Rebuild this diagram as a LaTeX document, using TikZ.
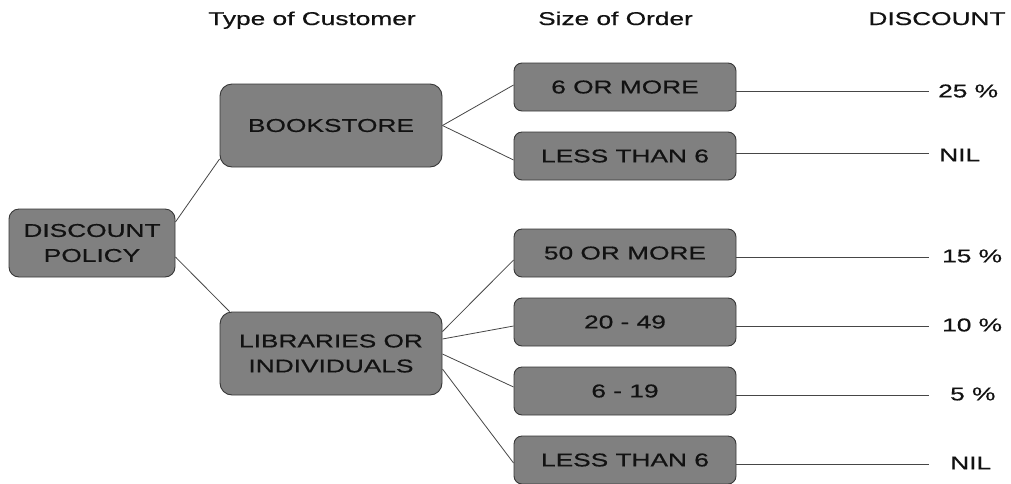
\documentclass[tikz,border=0pt]{standalone}
\usepackage{fontspec}
\setmainfont[FakeStretch=1.42,FakeBold=0.6]{Liberation Sans}
\usetikzlibrary{calc}
\definecolor{boxfill}{RGB}{128,128,128}
\definecolor{boxdraw}{RGB}{55,55,55}
\definecolor{linecol}{RGB}{70,70,70}
\definecolor{txt}{RGB}{18,18,18}
\begin{document}
\begin{tikzpicture}[x=1pt,y=-1pt,
  every node/.style={font=\fontsize{18.5}{25}\selectfont, text=txt, inner sep=0pt},
  bigbox/.style={draw=boxdraw, fill=boxfill, rounded corners=12pt, line width=0.9pt,
    minimum width=222pt, minimum height=83pt, align=center},
  rootbox/.style={draw=boxdraw, fill=boxfill, rounded corners=10pt, line width=0.9pt,
    minimum width=166pt, minimum height=68pt, align=center},
  smallbox/.style={draw=boxdraw, fill=boxfill, rounded corners=8pt, line width=0.9pt,
    minimum width=222pt, minimum height=48pt, align=center},
  conn/.style={draw=linecol, line width=0.8pt},
  heading/.style={anchor=base},
  value/.style={anchor=west}
]
\useasboundingbox (0,0) rectangle (1011,483);

% headings
\node[heading] (h1) at (312,25) {Type of Customer};
\node[heading] (h2) at (615.5,25) {Size of Order};
\node[heading] (h3) at (937,25) {DISCOUNT};

% boxes
\node[rootbox] (root) at (92,243) {DISCOUNT\\POLICY};
\node[bigbox] (book) at (331,125.5) {BOOKSTORE};
\node[bigbox] (lib) at (331,353.5) {LIBRARIES OR\\INDIVIDUALS};

\node[smallbox] (b1) at (625,87) {6 OR MORE};
\node[smallbox] (b2) at (625,156) {LESS THAN 6};
\node[smallbox] (b3) at (625,253) {50 OR MORE};
\node[smallbox] (b4) at (625,322) {20 - 49};
\node[smallbox] (b5) at (625,391) {6 - 19};
\node[smallbox] (b6) at (625,460) {LESS THAN 6};

% line ends
\coordinate (e1) at (929,91);
\coordinate (e2) at (929,153);
\coordinate (e3) at (929,257);
\coordinate (e4) at (929,326);
\coordinate (e5) at (929,395);
\coordinate (e6) at (929,464);

% values
\node[value] (v1) at (938,91) {25 \%};
\node[value] (v2) at (939,155) {NIL};
\node[value] (v3) at (942,256) {15 \%};
\node[value] (v4) at (942,325) {10 \%};
\node[value] (v5) at (950,394) {5 \%};
\node[value] (v6) at (950,463) {NIL};

% connectors: tree
\draw[conn] ($(root.east)+(0,-21)$) -- ($(book.west)+(0,33.5)$);
\draw[conn] ($(root.east)+(0,14)$) -- ($(lib.north west)+(10,0)$);

\draw[conn] (book.east) -- ($(b1.west)+(0,-2)$);
\draw[conn] (book.east) -- ($(b2.west)+(0,4)$);

\draw[conn] ($(lib.east)+(0,-22)$) -- ($(b3.west)+(0,7)$);
\draw[conn] ($(lib.east)+(0,-14.5)$) -- ($(b4.west)+(0,4)$);
\draw[conn] ($(lib.east)+(0,0.5)$) -- ($(b5.west)+(0,-4)$);
\draw[conn] ($(lib.east)+(0,15.5)$) -- ($(b6.west)+(0,3)$);

% connectors: to values
\draw[conn] (b1.east |- e1) -- (e1);
\draw[conn] (b2.east |- e2) -- (e2);
\draw[conn] (b3.east |- e3) -- (e3);
\draw[conn] (b4.east |- e4) -- (e4);
\draw[conn] (b5.east |- e5) -- (e5);
\draw[conn] (b6.east |- e6) -- (e6);
\end{tikzpicture}
\end{document}
